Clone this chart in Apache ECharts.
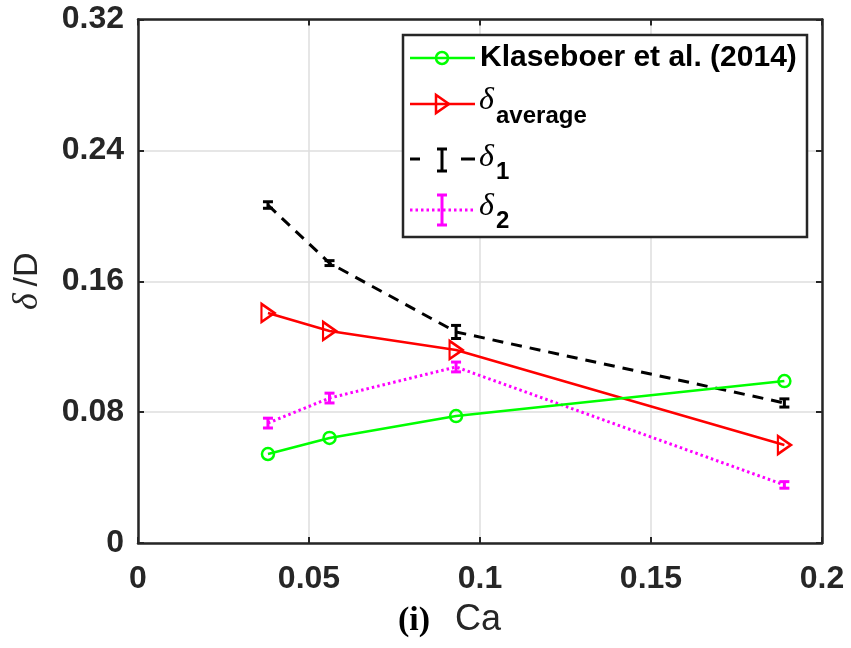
<!DOCTYPE html>
<html>
<head>
<meta charset="utf-8">
<script src="https://cdn.jsdelivr.net/npm/echarts@6/dist/echarts.min.js"></script>
<style>
html,body{margin:0;padding:0;background:#fff;}
#chart{width:851px;height:648px;}
</style>
</head>
<body>
<div id="chart"></div>
<script>
// ---- data ----
const ca = [0.038, 0.056, 0.093, 0.189];
const klaseboer = [0.0544, 0.0642, 0.0776, 0.099];
const deltaAvg = [0.1406, 0.1296, 0.118, 0.0599];
const delta1 = [0.2066, 0.1711, 0.129, 0.0856];
const delta1Err = [0.002, 0.0015, 0.004, 0.0025];
const delta2 = [0.0733, 0.0886, 0.1076, 0.0355];
const delta2Err = [0.003, 0.003, 0.003, 0.002];
const xTicks = [0, 0.05, 0.1, 0.15, 0.2];
const yTicks = [0, 0.08, 0.16, 0.24, 0.32];
const legendNames = ['Klaseboer et al. (2014)', 'average', '1', '2'];

const GREEN = '#00ff00', RED = '#ff0000', BLACK = '#000000', MAGENTA = '#ff00ff';
const FRAME = '#262626';

const pairs = (xs, ys) => xs.map((x, i) => [x, ys[i]]);
const errData = (xs, ys, es) => xs.map((x, i) => [x, ys[i] - es[i], ys[i] + es[i]]);

function errRender(color, capHalf, lw) {
  return function (params, api) {
    const x = api.value(0), lo = api.value(1), hi = api.value(2);
    const p1 = api.coord([x, lo]), p2 = api.coord([x, hi]);
    const st = { stroke: color, lineWidth: lw };
    return {
      type: 'group',
      children: [
        { type: 'line', shape: { x1: p1[0], y1: p1[1], x2: p2[0], y2: p2[1] }, style: st },
        { type: 'line', shape: { x1: p1[0] - capHalf, y1: p1[1], x2: p1[0] + capHalf, y2: p1[1] }, style: st },
        { type: 'line', shape: { x1: p2[0] - capHalf, y1: p2[1], x2: p2[0] + capHalf, y2: p2[1] }, style: st }
      ]
    };
  };
}

const tickLabelStyle = { fontFamily: 'Liberation Sans, Arial, sans-serif', fontWeight: 'bold', fontSize: 32, color: '#262626' };

const chart = echarts.init(document.getElementById('chart'), null, { renderer: 'canvas' });

const LX0 = 410, LX1 = 475, LXM = 442;
const legendGraphics = [
  { type: 'rect', shape: { x: 403, y: 35, width: 404, height: 202 }, style: { fill: '#fff', stroke: FRAME, lineWidth: 2.5 }, z: 100 },
  // row 1
  { type: 'line', shape: { x1: LX0, y1: 58, x2: LX1, y2: 58 }, style: { stroke: GREEN, lineWidth: 2.5 }, z: 101 },
  { type: 'circle', shape: { cx: LXM, cy: 58, r: 6 }, style: { fill: 'none', stroke: GREEN, lineWidth: 2.5 }, z: 102 },
  { type: 'text', x: 480, y: 58, style: { text: legendNames[0], font: 'bold 30px "Liberation Sans", Arial, sans-serif', fill: '#000', verticalAlign: 'middle', align: 'left' }, z: 102 },
  // row 2
  { type: 'line', shape: { x1: LX0, y1: 104, x2: LX1, y2: 104 }, style: { stroke: RED, lineWidth: 2.5 }, z: 101 },
  { type: 'polygon', shape: { points: [[LXM - 6, 95], [LXM - 6, 113], [LXM + 7, 104]] }, style: { fill: 'none', stroke: RED, lineWidth: 2.5 }, z: 102 },
  { type: 'text', x: 479, y: 101, style: { text: 'δ', font: 'italic 32px "Liberation Serif", "Times New Roman", serif', fill: '#000', verticalAlign: 'middle', align: 'left' }, z: 102 },
  { type: 'text', x: 496, y: 116, style: { text: legendNames[1], font: 'bold 24px "Liberation Sans", Arial, sans-serif', fill: '#000', verticalAlign: 'middle', align: 'left' }, z: 102 },
  // row 3
  { type: 'line', shape: { x1: LX0, y1: 159, x2: LX0 + 10, y2: 159 }, style: { stroke: BLACK, lineWidth: 3 }, z: 101 },
  { type: 'line', shape: { x1: LX1 - 14, y1: 159, x2: LX1, y2: 159 }, style: { stroke: BLACK, lineWidth: 3 }, z: 101 },
  { type: 'line', shape: { x1: LXM, y1: 149, x2: LXM, y2: 171 }, style: { stroke: BLACK, lineWidth: 3 }, z: 102 },
  { type: 'line', shape: { x1: LXM - 5, y1: 149, x2: LXM + 5, y2: 149 }, style: { stroke: BLACK, lineWidth: 3 }, z: 102 },
  { type: 'line', shape: { x1: LXM - 5, y1: 171, x2: LXM + 5, y2: 171 }, style: { stroke: BLACK, lineWidth: 3 }, z: 102 },
  { type: 'text', x: 479, y: 158, style: { text: 'δ', font: 'italic 32px "Liberation Serif", "Times New Roman", serif', fill: '#000', verticalAlign: 'middle', align: 'left' }, z: 102 },
  { type: 'text', x: 496, y: 172, style: { text: legendNames[2], font: 'bold 24px "Liberation Sans", Arial, sans-serif', fill: '#000', verticalAlign: 'middle', align: 'left' }, z: 102 },
  // row 4
  { type: 'line', shape: { x1: LX0, y1: 210, x2: LX1, y2: 210 }, style: { stroke: MAGENTA, lineWidth: 3, lineDash: [2.5, 3] }, z: 101 },
  { type: 'line', shape: { x1: LXM, y1: 195, x2: LXM, y2: 225 }, style: { stroke: MAGENTA, lineWidth: 3 }, z: 102 },
  { type: 'line', shape: { x1: LXM - 5, y1: 195, x2: LXM + 5, y2: 195 }, style: { stroke: MAGENTA, lineWidth: 3 }, z: 102 },
  { type: 'line', shape: { x1: LXM - 5, y1: 225, x2: LXM + 5, y2: 225 }, style: { stroke: MAGENTA, lineWidth: 3 }, z: 102 },
  { type: 'text', x: 479, y: 207, style: { text: 'δ', font: 'italic 32px "Liberation Serif", "Times New Roman", serif', fill: '#000', verticalAlign: 'middle', align: 'left' }, z: 102 },
  { type: 'text', x: 496, y: 221, style: { text: legendNames[3], font: 'bold 24px "Liberation Sans", Arial, sans-serif', fill: '#000', verticalAlign: 'middle', align: 'left' }, z: 102 },
  // x axis title
  { type: 'text', x: 398, y: 621, style: { text: '(i)', font: 'bold 34px "Liberation Serif", "Times New Roman", serif', fill: '#000', verticalAlign: 'middle', align: 'left' }, z: 102 },
  { type: 'text', x: 455, y: 620, style: { text: 'Ca', font: '36px "Liberation Sans", Arial, sans-serif', fill: '#262626', verticalAlign: 'middle', align: 'left' }, z: 102 }
];

const option = {
  backgroundColor: '#fff',
  animation: false,
  grid: { left: 138, right: 29, top: 19.5, bottom: 105, show: false },
  xAxis: [
    {
      type: 'value', min: xTicks[0], max: xTicks[xTicks.length - 1], interval: 0.05,
      axisLine: { show: true, onZero: false, lineStyle: { color: FRAME, width: 2.5 } },
      axisTick: { show: true, inside: true, length: 6, lineStyle: { color: FRAME, width: 2 } },
      splitLine: { show: true, lineStyle: { color: '#dedede', width: 1.5 } },
      axisLabel: Object.assign({ margin: 20 }, tickLabelStyle)
    },
    {
      type: 'value', position: 'top', min: xTicks[0], max: xTicks[xTicks.length - 1], interval: 0.05,
      axisLine: { show: true, onZero: false, lineStyle: { color: FRAME, width: 2.5 } },
      axisTick: { show: true, inside: true, length: 6, lineStyle: { color: FRAME, width: 2 } },
      splitLine: { show: false }, axisLabel: { show: false }
    }
  ],
  yAxis: [
    {
      type: 'value', min: yTicks[0], max: yTicks[yTicks.length - 1], interval: 0.08,
      axisLine: { show: true, onZero: false, lineStyle: { color: FRAME, width: 2.5 } },
      axisTick: { show: true, inside: true, length: 6, lineStyle: { color: FRAME, width: 2 } },
      splitLine: { show: true, lineStyle: { color: '#dedede', width: 1.5 } },
      axisLabel: Object.assign({ margin: 14 }, tickLabelStyle),
      name: '{d|δ}  {n|/D}', nameLocation: 'middle', nameRotate: 90, nameGap: 92,
      nameTextStyle: {
        rich: {
          d: { fontFamily: 'Liberation Serif, Times New Roman, serif', fontStyle: 'italic', fontSize: 36, color: '#262626' },
          n: { fontFamily: 'Liberation Sans, Arial, sans-serif', fontSize: 34, color: '#262626' }
        }
      }
    },
    {
      type: 'value', position: 'right', min: yTicks[0], max: yTicks[yTicks.length - 1], interval: 0.08,
      axisLine: { show: true, onZero: false, lineStyle: { color: FRAME, width: 2.5 } },
      axisTick: { show: true, inside: true, length: 6, lineStyle: { color: FRAME, width: 2 } },
      splitLine: { show: false }, axisLabel: { show: false }
    }
  ],
  graphic: legendGraphics,
  series: [
    {
      name: 'δ1', type: 'line', data: pairs(ca, delta1), symbol: 'none',
      lineStyle: { color: BLACK, width: 3, type: [11, 8] }, z: 3
    },
    {
      name: 'δ1 err', type: 'custom', data: errData(ca, delta1, delta1Err),
      encode: { x: 0, y: [1, 2] }, renderItem: errRender(BLACK, 5, 3), z: 4
    },
    {
      name: 'δ2', type: 'line', data: pairs(ca, delta2), symbol: 'none',
      lineStyle: { color: MAGENTA, width: 3, type: [2.5, 3] }, z: 3
    },
    {
      name: 'δ2 err', type: 'custom', data: errData(ca, delta2, delta2Err),
      encode: { x: 0, y: [1, 2] }, renderItem: errRender(MAGENTA, 5, 3), z: 4
    },
    {
      name: 'δaverage', type: 'line', data: pairs(ca, deltaAvg),
      symbol: 'triangle', symbolRotate: -90, symbolSize: [18, 13],
      itemStyle: { color: 'rgba(0,0,0,0)', borderColor: RED, borderWidth: 2.5 },
      lineStyle: { color: RED, width: 2.5 }, z: 5
    },
    {
      name: 'Klaseboer et al. (2014)', type: 'line', data: pairs(ca, klaseboer),
      symbol: 'circle', symbolSize: 12,
      itemStyle: { color: 'rgba(0,0,0,0)', borderColor: GREEN, borderWidth: 2.5 },
      lineStyle: { color: GREEN, width: 2.5 }, z: 5
    }
  ]
};
chart.setOption(option);
</script>
</body>
</html>
